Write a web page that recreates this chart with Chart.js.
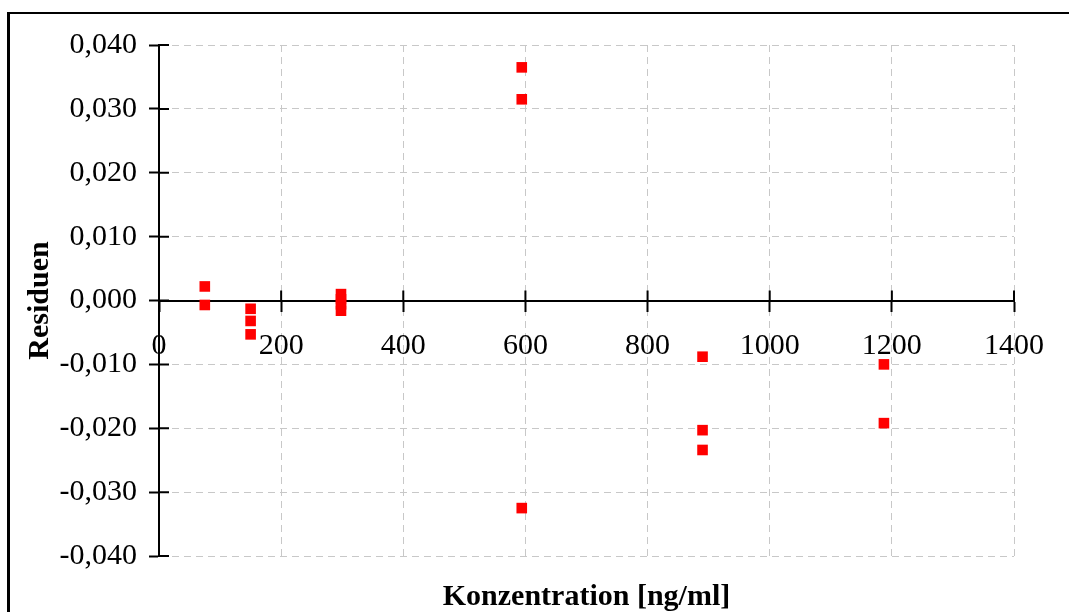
<!DOCTYPE html>
<html>
<head>
<meta charset="utf-8">
<script src="https://cdn.jsdelivr.net/npm/chart.js@4"></script>
<style>
  html, body { margin: 0; padding: 0; background: #fff; overflow: hidden; }
  #wrap { position: relative; width: 1069px; height: 612px; }
  #frame {
    position: absolute; left: 7px; top: 12px; right: -20px; bottom: -20px;
    border-left: 3px solid #000; border-top: 2px solid #000; pointer-events: none;
  }
</style>
</head>
<body>
<div id="wrap">
  <canvas id="myChart" width="1069" height="612"></canvas>
  <div id="frame"></div>
</div>
<script>
'use strict';

// Konzentration [ng/ml] je Messpunkt
const concentration = [75, 75, 150, 150, 150, 298, 298, 298, 298, 594, 594, 594, 890, 890, 890, 1187, 1187];
// Residuen je Messpunkt
const residuals = [0.0022, -0.0007, -0.0013, -0.0032, -0.0053, 0.0010, 0.0002, -0.0006, -0.0016,
  0.0365, 0.0315, -0.0325, -0.0088, -0.0203, -0.0234, -0.0100, -0.0192];

const xMin = 0;
const xMax = 1400;
const xStep = 200;
const yMin = -0.04;
const yMax = 0.04;
const yStep = 0.01;

const points = concentration.map((c, i) => ({ x: c, y: residuals[i] }));

const fontFamily = '"Liberation Serif", "Times New Roman", serif';
const gridColor = '#c8c8c8';

// inner half of the axis ticks (they cross the axis lines in the original)
const crossTicks = {
  id: 'crossTicks',
  beforeDatasetsDraw(chart) {
    const { ctx, scales: { x, y } } = chart;
    const y0 = y.getPixelForValue(0);
    ctx.save();
    ctx.strokeStyle = '#000';
    ctx.lineWidth = 2;
    ctx.beginPath();
    x.ticks.forEach((t) => {
      const px = x.getPixelForValue(t.value);
      ctx.moveTo(px, y0 - 10);
      ctx.lineTo(px, y0);
    });
    y.ticks.forEach((t) => {
      const py = y.getPixelForValue(t.value);
      ctx.moveTo(y.right, py);
      ctx.lineTo(y.right + 10, py);
    });
    ctx.stroke();
    ctx.restore();
  },
};

const config = {
  type: 'scatter',
  data: {
    datasets: [
      {
        label: 'Residuen',
        data: points,
        pointStyle: 'rect',
        pointRadius: 7.5,
        pointBorderWidth: 0,
        backgroundColor: '#ff0000',
        borderColor: '#ff0000',
      },
    ],
  },
  options: {
    responsive: false,
    animation: false,
    layout: { padding: { left: 0, right: 55, top: 45, bottom: 0 } },
    scales: {
      x: {
        type: 'linear',
        min: xMin,
        max: xMax,
        position: { y: 0 },
        grid: {
          color: (c) => (c.tick && c.tick.value === 0 ? 'rgba(0,0,0,0)' : gridColor),
          lineWidth: 1,
          tickColor: '#000',
          tickWidth: 2,
          tickLength: 10,
        },
        border: { display: true, color: '#000', width: 2, dash: [7, 5] },
        ticks: {
          stepSize: xStep,
          padding: 18,
          color: '#000',
          maxRotation: 0,
          font: { family: fontFamily, size: 30 },
          callback: (v) => String(v),
        },
      },
      y: {
        type: 'linear',
        min: yMin,
        max: yMax,
        position: 'left',
        afterFit: (scale) => { scale.width = 159; },
        grid: {
          color: (c) => (c.tick && Math.abs(c.tick.value) < 1e-9 ? 'rgba(0,0,0,0)' : gridColor),
          lineWidth: 1,
          tickColor: '#000',
          tickWidth: 2,
          tickLength: 10,
        },
        border: { display: true, color: '#000', width: 2, dash: [7, 5] },
        ticks: {
          stepSize: yStep,
          padding: 12,
          color: '#000',
          font: { family: fontFamily, size: 30 },
          callback: (v) => Number(v).toFixed(3).replace('.', ','),
        },
        title: {
          display: true,
          text: 'Residuen',
          color: '#000',
          padding: { top: 22, bottom: 0 },
          font: { family: fontFamily, size: 30, weight: 'bold' },
        },
      },
    },
    plugins: {
      legend: { display: false },
      tooltip: { enabled: false },
      title: {
        display: true,
        position: 'bottom',
        fullSize: false,
        text: 'Konzentration [ng/ml]',
        color: '#000',
        font: { family: fontFamily, size: 30, weight: 'bold', lineHeight: 1 },
        padding: { top: 26, bottom: 0 },
      },
    },
  },
  plugins: [crossTicks],
};

const myChart = new Chart(document.getElementById('myChart'), config);
</script>
</body>
</html>
